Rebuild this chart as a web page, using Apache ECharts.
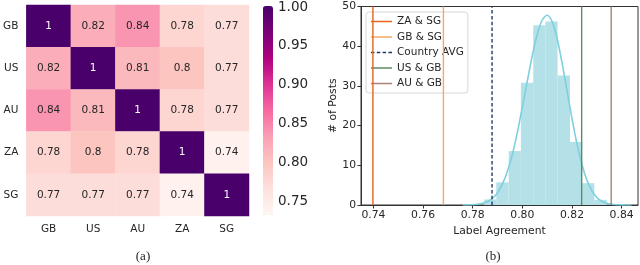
<!DOCTYPE html>
<html><head><meta charset="utf-8">
<script src="https://cdn.jsdelivr.net/npm/echarts@6/dist/echarts.min.js"></script>
<style>html,body{margin:0;padding:0;background:#fff}#c{width:640px;height:265px}</style>
</head><body><div id="c"></div><script>
// ---- panel (a): pairwise label agreement heatmap ----
const countries = ['GB', 'US', 'AU', 'ZA', 'SG'];
const agreementGB = [1, 0.82, 0.84, 0.78, 0.77];
const agreementUS = [0.82, 1, 0.81, 0.8, 0.77];
const agreementAU = [0.84, 0.81, 1, 0.78, 0.77];
const agreementZA = [0.78, 0.8, 0.78, 1, 0.74];
const agreementSG = [0.77, 0.77, 0.77, 0.74, 1];
const colorbarMin = 0.733;
const colorbarMax = 1.0;
const colorbarTicks = [0.75, 0.80, 0.85, 0.90, 0.95, 1.00];

// ---- panel (b): histogram + KDE + reference lines ----
const binStart = [0.7846, 0.7895, 0.7945, 0.7994, 0.8044, 0.8093, 0.8142, 0.8192, 0.8241, 0.8290];
const binEnd   = [0.7895, 0.7945, 0.7994, 0.8044, 0.8093, 0.8142, 0.8192, 0.8241, 0.8290, 0.8340];
const binCount = [1.4, 5.7, 13.6, 30.8, 45.3, 46.2, 32.6, 15.9, 5.5, 1.3];
const kdeX = [0.776, 0.778, 0.780, 0.782, 0.784, 0.786, 0.788, 0.790, 0.792, 0.794, 0.796, 0.798, 0.800, 0.802, 0.804, 0.806, 0.808, 0.810, 0.812, 0.814, 0.816, 0.818, 0.820, 0.822, 0.824, 0.826, 0.828, 0.830, 0.832, 0.834, 0.836, 0.838, 0.840, 0.842, 0.844];
const kdeY = [0.01, 0.03, 0.08, 0.2, 0.45, 0.9, 1.7, 3.1, 5.3, 8.5, 12.8, 18.3, 24.6, 31.2, 37.6, 43.0, 46.6, 47.8, 46.2, 42.0, 35.8, 28.8, 21.8, 15.4, 10.2, 6.3, 3.6, 1.9, 0.95, 0.45, 0.2, 0.08, 0.03, 0.01, 0.0];
const pairNames = ['ZA & SG', 'GB & SG', 'Country AVG', 'US & GB', 'AU & GB'];
const pairAgreement = [0.7398, 0.7682, 0.7878, 0.8239, 0.8358];
const pairColors = ['#e8621e', '#f7a760', '#1f3a6a', '#5e8b62', '#a9807b'];
const pairDashed = [false, false, true, false, false];
const xTicks = [0.74, 0.76, 0.78, 0.80, 0.82, 0.84];
const yTicksMax = 50, yTickStep = 10;

const FONT = 'DejaVu Sans';
const INK = '#262626';
const RdPu = ['#fff7f3', '#fde0dd', '#fcc5c0', '#fa9fb5', '#f768a1', '#dd3497', '#ae017e', '#7a0177', '#49006a'];
const ICON_SOLID = 'path://M0,0H21V1.5H0Z';
const ICON_DASH = 'path://M0,0H3.5V1.5H0Z M5.8,0H9.3V1.5H5.8Z M11.6,0H15.1V1.5H11.6Z M17.4,0H21V1.5H17.4Z';

const rows = [agreementGB, agreementUS, agreementAU, agreementZA, agreementSG];
const heatData = [];
rows.forEach((row, r) => row.forEach((v, c) => {
  heatData.push({ value: [c, r, v], label: { color: v > 0.9 ? '#ffffff' : INK } });
}));

const series = [];
series.push({
  type: 'heatmap', xAxisIndex: 0, yAxisIndex: 0, data: heatData,
  label: { show: true, fontFamily: FONT, fontSize: 10.5, formatter: p => String(p.value[2]) },
  emphasis: { disabled: true }, silent: true
});
const histData = binStart.map((s, i) => [s, binEnd[i], binCount[i]]);
series.push({
  type: 'custom', xAxisIndex: 1, yAxisIndex: 1, data: histData, silent: true,
  encode: { x: [0, 1], y: 2 },
  renderItem: (params, api) => {
    const p0 = api.coord([api.value(0), api.value(2)]);
    const p1 = api.coord([api.value(1), 0]);
    return { type: 'rect', shape: { x: p0[0], y: p0[1], width: p1[0] - p0[0], height: p1[1] - p0[1] },
      style: { fill: '#b4e1e7' } };
  }
});
series.push({
  type: 'line', xAxisIndex: 1, yAxisIndex: 1, data: kdeX.map((x, i) => [x, kdeY[i]]),
  smooth: 0.3, symbol: 'none', lineStyle: { color: '#7dd0dc', width: 1.6 }, silent: true, z: 3
});
pairNames.forEach((n, i) => {
  series.push({
    name: n, type: 'line', xAxisIndex: 1, yAxisIndex: 1,
    data: [[pairAgreement[i], 0], [pairAgreement[i], yTicksMax]],
    symbol: 'none', color: pairColors[i],
    lineStyle: { color: pairColors[i], width: 1.4, type: pairDashed[i] ? [3.5, 2.3] : 'solid' }, silent: true, z: 4
  });
});

const option = {
  animation: false,
  textStyle: { fontFamily: FONT, color: INK },
  grid: [
    { left: 23, top: 5, width: 226, height: 211 },
    { left: 361, top: 6.5, width: 277, height: 198.5, show: true, borderColor: '#333', borderWidth: 1, backgroundColor: 'transparent' },
    { left: 263, top: 6, width: 10, height: 209 }
  ],
  xAxis: [
    { type: 'category', gridIndex: 0, data: countries, axisLine: { show: false }, axisTick: { show: false },
      axisLabel: { fontSize: 10.5, color: INK, margin: 8, fontFamily: FONT }, splitLine: { show: false } },
    { type: 'value', gridIndex: 1, min: 0.735, max: 0.8466,
      axisLine: { show: true, lineStyle: { color: '#333' } },
      axisTick: { show: true, length: 3.5, customValues: xTicks, lineStyle: { color: '#333' } },
      axisLabel: { customValues: xTicks, formatter: v => v.toFixed(2), fontSize: 10.8, color: INK, margin: 5, fontFamily: FONT },
      splitLine: { show: false },
      name: 'Label Agreement', nameLocation: 'middle', nameGap: 20, nameTextStyle: { fontSize: 10.8, color: INK, fontFamily: FONT } },
    { type: 'value', gridIndex: 2, show: false, min: 0, max: 1 }
  ],
  yAxis: [
    { type: 'category', gridIndex: 0, data: countries, inverse: true, axisLine: { show: false }, axisTick: { show: false },
      axisLabel: { fontSize: 10.5, color: INK, margin: 8, fontFamily: FONT }, splitLine: { show: false } },
    { type: 'value', gridIndex: 1, min: 0, max: yTicksMax, interval: yTickStep,
      axisLine: { show: true, lineStyle: { color: '#333' } },
      axisTick: { show: true, length: 3.5, lineStyle: { color: '#333' } },
      axisLabel: { fontSize: 10.8, color: INK, margin: 5, fontFamily: FONT },
      splitLine: { show: false },
      name: '# of Posts', nameLocation: 'middle', nameGap: 22, nameTextStyle: { fontSize: 10.8, color: INK, fontFamily: FONT } },
    { type: 'value', gridIndex: 2, position: 'right', min: colorbarMin, max: colorbarMax,
      axisLine: { show: false },
      axisTick: { show: true, length: 3.5, customValues: colorbarTicks, lineStyle: { color: '#333' } },
      axisLabel: { customValues: colorbarTicks, formatter: v => v.toFixed(2), fontSize: 13.5, color: INK, margin: 5, fontFamily: FONT },
      splitLine: { show: false } }
  ],
  visualMap: {
    type: 'continuous', seriesIndex: 0, min: colorbarMin, max: colorbarMax,
    inRange: { color: RdPu }, calculable: false, orient: 'vertical',
    left: 263, top: 6, itemWidth: 10, itemHeight: 209, padding: 0, showLabel: false, text: null,
    hoverLink: false
  },
  legend: {
    data: pairNames.map((n, i) => ({ name: n, icon: pairDashed[i] ? ICON_DASH : ICON_SOLID })),
    orient: 'vertical', left: 366, top: 12,
    padding: [4, 4, 4, 5], itemWidth: 21, itemHeight: 10, itemGap: 4.5,
    borderColor: '#d6d6d6', borderWidth: 1, borderRadius: 3, backgroundColor: 'rgba(255,255,255,0.85)',
    textStyle: { fontSize: 10.5, color: INK, fontFamily: FONT }, selectedMode: false
  },
  graphic: [
    { type: 'text', x: 143, y: 257, style: { text: '(a)', font: '13px "Liberation Serif"', fill: INK, textAlign: 'center', textVerticalAlign: 'middle' } },
    { type: 'text', x: 493, y: 257, style: { text: '(b)', font: '13px "Liberation Serif"', fill: INK, textAlign: 'center', textVerticalAlign: 'middle' } }
  ],
  series: series
};
const chart = echarts.init(document.getElementById('c'), null, { renderer: 'canvas' });
chart.setOption(option);
</script></body></html>
